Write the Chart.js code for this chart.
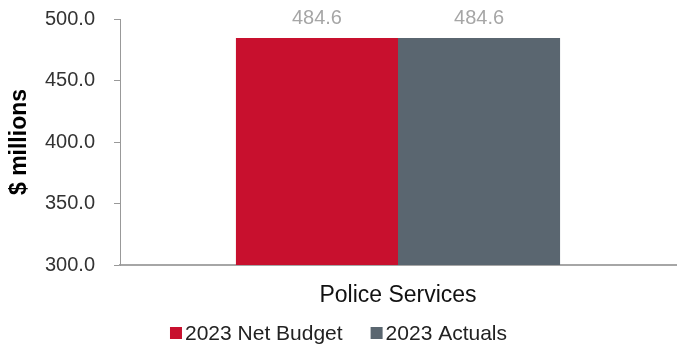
<!DOCTYPE html>
<html>
<head>
<meta charset="utf-8">
<script src="https://cdn.jsdelivr.net/npm/chart.js@4"></script>
<style>
  html, body { margin: 0; padding: 0; background: #fff; }
  #wrap { width: 677px; height: 349px; }
</style>
</head>
<body>
<div id="wrap"><canvas id="chart" width="677" height="349"></canvas></div>
<script>
"use strict";

// Chart data
const categories = ["Police Services"];
const netBudget = [484.6];
const actuals = [484.6];
const seriesNames = ["2023 Net Budget", "2023 Actuals"];
const yTicks = [300, 350, 400, 450, 500];

const font = "'Liberation Sans', Arial, sans-serif";

// Draw the value above each bar
const valueLabels = {
  id: "valueLabels",
  afterDatasetsDraw(chart) {
    const ctx = chart.ctx;
    ctx.save();
    ctx.font = "20px " + font;
    ctx.fillStyle = "#a6a6a6";
    ctx.textAlign = "center";
    ctx.textBaseline = "bottom";
    chart.data.datasets.forEach((ds, i) => {
      chart.getDatasetMeta(i).data.forEach((bar, j) => {
        ctx.fillText(ds.data[j].toFixed(1), bar.x, bar.y - 9);
      });
    });
    ctx.restore();
  }
};

// Legend drawn by hand so the spacing matches the original
const bottomLegend = {
  id: "bottomLegend",
  afterDraw(chart) {
    const ctx = chart.ctx;
    const box = 12, gap = 3, itemGap = 28, y = 333;
    ctx.save();
    ctx.font = "21px " + font;
    ctx.textBaseline = "middle";
    const items = chart.data.datasets.map(ds => ({
      text: ds.label,
      color: ds.backgroundColor,
      w: box + gap + ctx.measureText(ds.label).width
    }));
    const total = items.reduce((s, it) => s + it.w, 0) + itemGap * (items.length - 1);
    let x = chart.width / 2 - total / 2;
    items.forEach(it => {
      ctx.fillStyle = it.color;
      ctx.fillRect(x, y - box / 2, box, box);
      ctx.fillStyle = "#222";
      ctx.fillText(it.text, x + box + gap, y + 1);
      x += it.w + itemGap;
    });
    ctx.restore();
  }
};

new Chart(document.getElementById("chart"), {
  type: "bar",
  data: {
    labels: categories,
    datasets: [{
      label: seriesNames[0],
      data: netBudget,
      backgroundColor: "#c8102e",
      categoryPercentage: 0.583,
      barPercentage: 1
    }, {
      label: seriesNames[1],
      data: actuals,
      backgroundColor: "#5a6670",
      categoryPercentage: 0.583,
      barPercentage: 1
    }]
  },
  options: {
    responsive: false,
    animation: false,
    layout: { padding: { top: 19, right: 1, left: 0, bottom: 0 } },
    scales: {
      x: {
        grid: { display: false, drawTicks: false },
        border: { display: true, color: "#a6a6a6", width: 2 },
        ticks: { color: "#111", font: { family: font, size: 23 }, padding: 17 },
        afterFit(scale) {
          scale.height = 84;
          scale.paddingLeft = 0;
          scale.paddingRight = 0;
        }
      },
      y: {
        min: 300,
        max: 500,
        afterBuildTicks(scale) { scale.ticks = yTicks.map(v => ({ value: v })); },
        grid: { drawOnChartArea: false, drawTicks: true, tickLength: 6, color: "#999" },
        border: { display: true, color: "#999", width: 1 },
        ticks: {
          color: "#333",
          padding: 19,
          font: { family: font, size: 20 },
          callback: v => Number(v).toFixed(1)
        },
        title: {
          display: true,
          text: "$ millions",
          color: "#000",
          padding: { top: 6, bottom: 0 },
          font: { family: font, size: 23, weight: "bold" }
        },
        afterFit(scale) {
          scale.width = 120;
          scale.paddingTop = 0;
          scale.paddingBottom = 0;
        }
      }
    },
    plugins: {
      legend: { display: false },
      tooltip: { enabled: false }
    }
  },
  plugins: [valueLabels, bottomLegend]
});
</script>
</body>
</html>
